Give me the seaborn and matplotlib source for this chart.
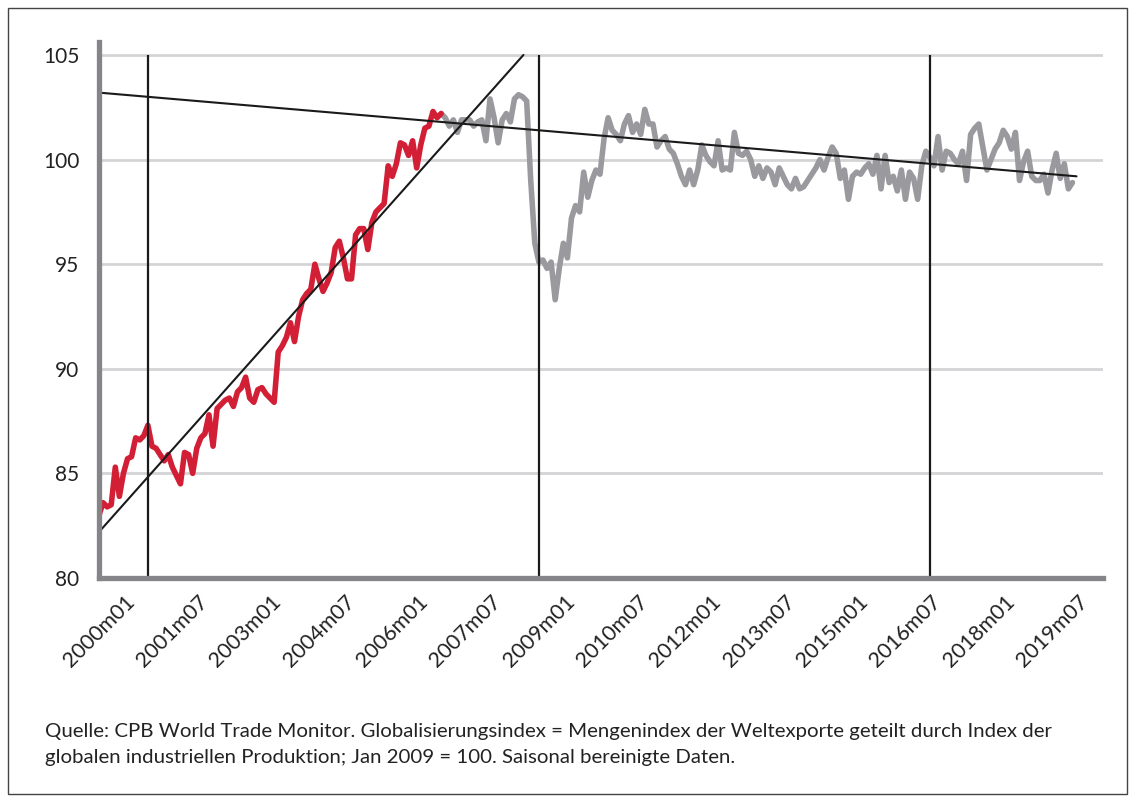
import matplotlib
matplotlib.use("Agg")
import matplotlib.pyplot as plt
import numpy as np
import pandas as pd
import seaborn as sns
from matplotlib.patches import Rectangle

# ---------------- data ----------------
tick_labels = ["2000m01", "2001m07", "2003m01", "2004m07", "2006m01", "2007m07",
               "2009m01", "2010m07", "2012m01", "2013m07", "2015m01", "2016m07",
               "2018m01", "2019m07"]

y_ticks = [80, 85, 90, 95, 100, 105]

# Globalisierungsindex, monthly from 2000m01 (red part up to 2007m01)
red_start = "2000m01"
red_values = [
    83.0, 83.6, 83.4, 83.5, 85.3, 83.9, 85.0, 85.7, 85.8, 86.7, 86.6, 86.8, 87.3,
    86.3, 86.2, 85.9, 85.6, 85.9, 85.3, 84.9, 84.5,
    86.0, 85.9, 85.0, 86.2, 86.7, 86.9, 87.8, 86.3, 88.1, 88.3,
    88.5, 88.6, 88.2, 88.9, 89.1, 89.6, 88.6, 88.4, 89.0, 89.1, 88.8,
    88.6, 88.4, 90.8, 91.1, 91.5, 92.2, 91.3, 92.5, 93.3, 93.6,
    93.8, 95.0, 94.3, 93.7, 94.1, 94.6, 95.8, 96.1, 95.3, 94.3,
    94.3, 96.4, 96.7, 96.7, 95.7, 97.0, 97.5, 97.7, 97.9, 99.7,
    99.2, 99.8, 100.8, 100.7, 100.2, 100.9, 99.6, 100.7, 101.5, 101.6,
    102.3, 102.0, 102.2,
]

# grey part, from 2007m01 onwards
gray_start = "2007m01"
gray_values = [
    102.2, 102.0, 101.6, 101.9, 101.3, 101.9, 101.9, 101.9, 101.6, 101.8, 101.9,
    100.9, 102.9, 102.0, 100.8, 101.9, 102.2, 101.8, 102.9, 103.1, 103.0, 102.8,
    99.0, 96.0, 95.1, 95.2, 94.8, 95.1, 93.3, 94.8, 96.0, 95.3,
    97.2, 97.8, 97.5, 99.4, 98.2, 99.0, 99.5, 99.3, 101.0, 102.0, 101.4, 101.2,
    100.9, 101.7, 102.1, 101.3, 101.7, 101.2, 102.4, 101.7, 101.7, 100.6,
    100.9, 101.1, 100.5, 100.3, 99.8, 99.2, 98.8, 99.5, 98.8, 99.5,
    100.7, 100.2, 99.9, 99.7, 100.9, 99.5, 99.6, 99.5, 101.3, 100.3,
    100.2, 100.4, 100.0, 99.2, 99.7, 99.1, 99.6, 99.4, 98.8, 99.6,
    99.2, 98.8, 98.6, 99.1, 98.6, 98.7, 99.0, 99.3, 99.6, 100.0,
    99.5, 100.1, 100.6, 100.3, 99.1, 99.5, 98.1, 99.2, 99.4, 99.3,
    99.6, 99.8, 99.3, 100.2, 98.6, 100.2, 98.9, 99.2, 98.5, 99.5,
    98.1, 99.4, 99.1, 98.1, 99.7, 100.4, 100.1, 99.7, 101.1, 99.5,
    100.4, 100.3, 100.0, 99.8, 100.4, 99.0, 101.2, 101.5, 101.7, 100.6,
    99.5, 100.0, 100.5, 100.8, 101.4, 101.1, 100.5, 101.3, 99.0, 99.9,
    100.4, 99.2, 99.0, 99.0, 99.3, 98.4, 99.5, 100.3, 99.1, 99.8, 98.6, 98.9,
]

# trend lines (month offsets from 2000m01, index values)
trend_up_months = [0, 104.2]
trend_up_values = [82.2, 105.0]
trend_flat_months = [0, 240]
trend_flat_values = [103.2, 99.2]

# vertical marker lines
vline_dates = ["2001m01", "2009m01", "2017m01"]

caption = ("Quelle: CPB World Trade Monitor. Globalisierungsindex = Mengenindex der Weltexporte geteilt durch Index der\n"
           "globalen industriellen Produktion; Jan 2009 = 100. Saisonal bereinigte Daten.")


def month_index(label):
    y, m = label.split("m")
    return (int(y) - 2000) * 12 + int(m) - 1


# ---------------- plot ----------------
sns.set_theme(style="white")
plt.rcParams["font.family"] = ["Lato", "DejaVu Sans"]

W, H = 1134, 800
fig = plt.figure(figsize=(W / 100, H / 100), dpi=100)
ax = fig.add_axes([99 / W, 1 - 578 / H, (1103 - 99) / W, (578 - 42) / H])

red_df = pd.DataFrame({"month": np.arange(len(red_values)) + month_index(red_start),
                       "value": red_values})
gray_df = pd.DataFrame({"month": np.arange(len(gray_values)) + month_index(gray_start),
                        "value": gray_values})

ax.set_xlim(0, 246.5)
ax.set_ylim(80, 105.62)

for yv in y_ticks[1:]:
    ax.axhline(yv, color="#d4d4d6", lw=2.0, zorder=1)

sns.lineplot(data=gray_df, x="month", y="value", ax=ax, color="#9a9a9e", lw=4.0,
             solid_joinstyle="round", zorder=3)
sns.lineplot(data=red_df, x="month", y="value", ax=ax, color="#d21f36", lw=4.0,
             solid_joinstyle="round", zorder=3)

ax.vlines([month_index(d) for d in vline_dates], 80, 105, color="#1a1a1a", lw=1.6, zorder=4)
sns.lineplot(x=trend_up_months, y=trend_up_values, ax=ax, color="#1a1a1a", lw=1.5, zorder=5)
sns.lineplot(x=trend_flat_months, y=trend_flat_values, ax=ax, color="#1a1a1a", lw=1.5, zorder=5)

ax.set_xticks([month_index(t) for t in tick_labels])
ax.set_xticklabels(tick_labels, rotation=45, ha="center", fontsize=15.5, color="#222222")
ax.set_yticks(y_ticks)
ax.set_yticklabels([str(v) for v in y_ticks], fontsize=15, color="#222222")
ax.tick_params(axis="x", length=0, pad=10)
ax.tick_params(axis="y", length=0, pad=14)
ax.set_xlabel("")
ax.set_ylabel("")

for s in ["top", "right"]:
    ax.spines[s].set_visible(False)
for s in ["left", "bottom"]:
    ax.spines[s].set_color("#858589")
    ax.spines[s].set_linewidth(3.8)
    ax.spines[s].set_zorder(6)

fig.text(45 / W, 1 - 723 / H, caption, fontsize=14.7, color="#222222", va="top",
         ha="left", linespacing=1.65)

fig.patches.append(Rectangle((8 / W, 6 / H), (1127 - 8) / W, (792 - 6) / H,
                             transform=fig.transFigure, fill=False,
                             ec="#444444", lw=1.0))

fig.savefig("out.png", dpi=100)
